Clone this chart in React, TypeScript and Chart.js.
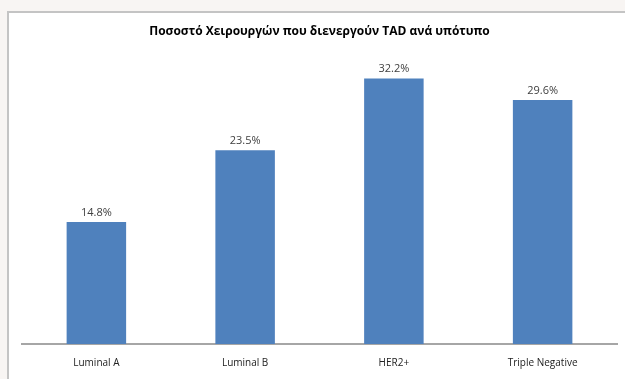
import React, { useEffect, useRef } from "react";
import { Chart, registerables } from "chart.js";

Chart.register(...registerables);

const titleText = "Ποσοστό Χειρουργών που διενεργούν TAD ανά υπότυπο";
const categories = ["Luminal A", "Luminal B", "HER2+", "Triple Negative"];
const values = [14.8, 23.5, 32.2, 29.6];
const barColor = "#4f81bd";

const valueLabels = {
  id: "valueLabels",
  afterDatasetsDraw(chart: any) {
    const ctx = chart.ctx;
    const meta = chart.getDatasetMeta(0);
    ctx.save();
    ctx.font = "11px 'Open Sans', sans-serif";
    ctx.fillStyle = "#404040";
    ctx.textAlign = "center";
    ctx.textBaseline = "bottom";
    meta.data.forEach((bar: any, i: number) => {
      ctx.fillText(values[i].toFixed(1) + "%", bar.x, bar.y - 4);
    });
    ctx.restore();
  },
};

export default function App() {
  const ref = useRef<HTMLCanvasElement>(null);
  useEffect(() => {
    document.body.style.margin = "0";
    const chart = new Chart(ref.current!, {
      type: "bar",
      data: {
        labels: categories,
        datasets: [
          {
            data: values,
            backgroundColor: barColor,
            categoryPercentage: 1,
            barPercentage: 0.4,
          },
        ],
      },
      options: {
        animation: false,
        responsive: false,
        layout: { padding: { top: 18, left: 22, right: 8, bottom: -3 } },
        plugins: {
          legend: { display: false },
          tooltip: { enabled: false },
          title: {
            display: true,
            text: titleText,
            color: "#000000",
            font: { family: "'Open Sans', sans-serif", size: 12, weight: "bold" },
            padding: { top: 6, bottom: 17 },
          },
        },
        scales: {
          y: { display: false, min: 0, max: 35 },
          x: {
            grid: { display: false, drawTicks: false },
            border: { display: true, color: "#a6a6a6", width: 2 },
            ticks: {
              color: "#222222",
              padding: 13,
              font: { family: "'Open Sans', sans-serif", size: 10 },
            },
          },
        },
      },
      plugins: [valueLabels],
    });
    return () => chart.destroy();
  }, []);
  return (
    <div style={{ position: "relative", width: 625, height: 379, background: "#f8f5f3", overflow: "hidden" }}>
      <div
        style={{
          position: "absolute",
          left: 7,
          top: 11,
          width: 640,
          height: 400,
          background: "#ffffff",
          border: "2px solid #c4c4c4",
        }}
      />
      <canvas ref={ref} width={625} height={379} style={{ position: "absolute", left: 0, top: 0 }} />
    </div>
  );
}
